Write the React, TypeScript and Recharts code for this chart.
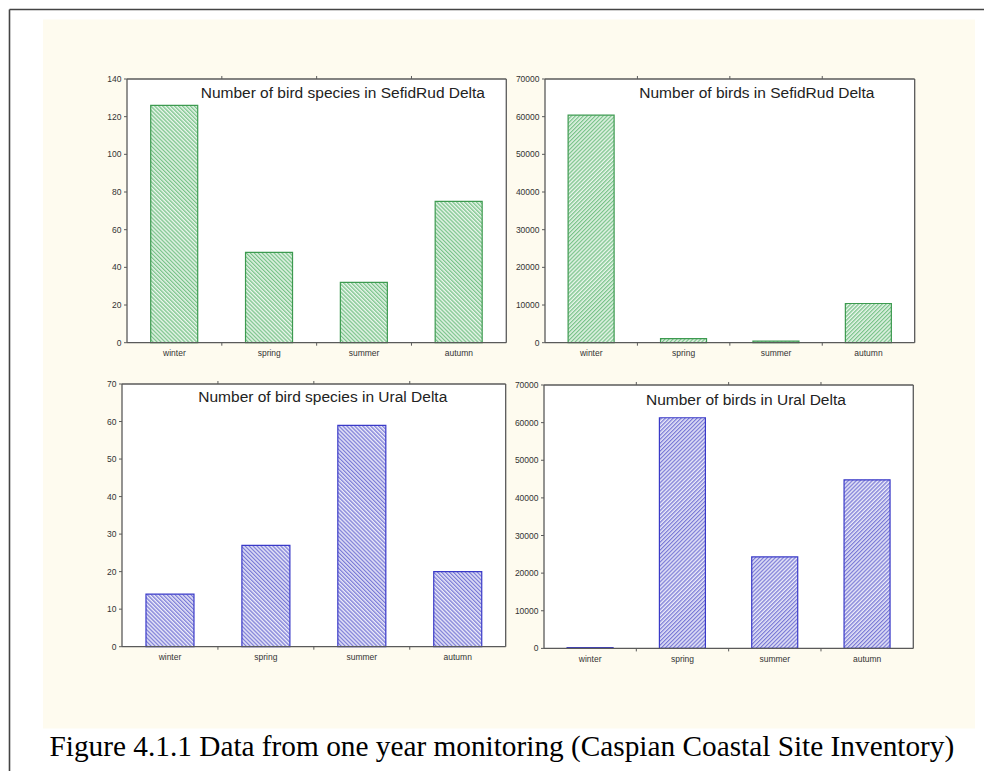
import React from 'react';
import { BarChart, Bar, XAxis, YAxis, CartesianGrid } from 'recharts';

const seasons = ['winter', 'spring', 'summer', 'autumn'];
const sefidRudSpecies = [126, 48, 32, 75];
const sefidRudBirds = [60400, 1100, 400, 10400];
const uralSpecies = [14, 27, 59, 20];
const uralBirds = [200, 61300, 24300, 44800];

const speciesTicksSefid = [0, 20, 40, 60, 80, 100, 120, 140];
const speciesTicksUral = [0, 10, 20, 30, 40, 50, 60, 70];
const birdTicks = [0, 10000, 20000, 30000, 40000, 50000, 60000, 70000];

const titles = [
  'Number of bird species in SefidRud Delta',
  'Number of birds in SefidRud Delta',
  'Number of bird species in Ural Delta',
  'Number of birds in Ural Delta',
];
const caption = 'Figure 4.1.1 Data from one year monitoring (Caspian Coastal Site Inventory)';

const makeData = (values: number[]) => seasons.map((s, i) => ({ season: s, value: values[i] }));

const GREEN = { line: '#3d9a50', hatch: '#79c389', bg: '#eaf6ec' };
const BLUE = { line: '#3a3ac8', hatch: '#7a7ad6', bg: '#ebebf9' };

const AX = '#5a5a5a';
const SANS = '"Liberation Sans", Arial, sans-serif';

type PanelProps = {
  id: string;
  values: number[];
  ticks: number[];
  plot: { x: number; y: number; w: number; h: number };
  color: { line: string; hatch: string; bg: string };
  rotate: number;
};

function Panel({ id, values, ticks, plot, color, rotate }: PanelProps) {
  const M_TOP = 30;
  const M_RIGHT = 20;
  const Y_W = 50;
  const TOP_H = 1;
  const RIGHT_W = 1;
  const width = plot.w + Y_W + M_RIGHT;
  const height = plot.h + M_TOP + 30;
  const band = plot.w / seasons.length;
  const axisY = M_TOP + plot.h;
  const data = makeData(values);
  const max = ticks[ticks.length - 1];

  const BottomTick = (props: any) => {
    const { x, payload, index } = props;
    return (
      <g>
        <text x={x} y={axisY + 13.3} textAnchor="middle" fontSize={8.5} fill="#333" fontFamily={SANS}>
          {payload.value}
        </text>
        {index > 0 && (
          <line x1={x - band / 2} x2={x - band / 2} y1={axisY} y2={axisY + 3} stroke={AX} strokeWidth={1} />
        )}
      </g>
    );
  };
  const TopTick = (props: any) => {
    const { x, index } = props;
    if (index === 0) return <g />;
    return <line x1={x - band / 2} x2={x - band / 2} y1={M_TOP} y2={M_TOP - 3} stroke={AX} strokeWidth={1} />;
  };

  return (
    <div style={{ position: 'absolute', left: plot.x - Y_W, top: plot.y - M_TOP }}>
      <BarChart
        width={width}
        height={height}
        data={data}
        margin={{ top: M_TOP - TOP_H, right: M_RIGHT - RIGHT_W, left: 0, bottom: 0 }}
        barCategoryGap="25%"
      >
        <defs>
          <pattern id={id} patternUnits="userSpaceOnUse" width={2.8} height={2.8} patternTransform={`rotate(${rotate})`}>
            <rect x={0} y={0} width={2.8} height={2.8} fill={color.bg} />
            <rect x={0} y={0} width={1.3} height={2.8} fill={color.hatch} />
          </pattern>
        </defs>
        <CartesianGrid xAxisId="bottom" yAxisId="left" horizontal={false} vertical={false} fill="#ffffff" />
        <XAxis
          xAxisId="bottom"
          dataKey="season"
          height={30}
          interval={0}
          tickLine={false}
          tick={<BottomTick />}
          axisLine={{ stroke: AX, strokeWidth: 1.3 }}
        />
        <XAxis
          xAxisId="top"
          dataKey="season"
          orientation="top"
          height={TOP_H}
          interval={0}
          tickLine={false}
          tick={<TopTick />}
          axisLine={{ stroke: AX, strokeWidth: 1.3 }}
        />
        <YAxis
          yAxisId="left"
          width={Y_W}
          domain={[0, max]}
          ticks={ticks}
          interval={0}
          tickSize={3}
          tickMargin={2.5}
          tick={{ fontSize: 8.5, fill: '#333', fontFamily: SANS }}
          axisLine={{ stroke: AX, strokeWidth: 1.3 }}
          tickLine={{ stroke: AX }}
        />
        <YAxis
          yAxisId="right"
          orientation="right"
          width={RIGHT_W}
          domain={[0, max]}
          ticks={ticks}
          interval={0}
          tickSize={3}
          tickFormatter={() => ''}
          axisLine={{ stroke: AX, strokeWidth: 1.3 }}
          tickLine={{ stroke: AX }}
        />
        <Bar
          xAxisId="bottom"
          yAxisId="left"
          dataKey="value"
          fill={`url(#${id})`}
          stroke={color.line}
          strokeWidth={1.2}
          isAnimationActive={false}
        />
      </BarChart>
    </div>
  );
}

export default function App() {
  return (
    <div style={{ position: 'absolute', left: 0, top: 0, width: 984, height: 771, background: '#ffffff', overflow: 'hidden' }}>
      <svg width={984} height={771} style={{ position: 'absolute', left: 0, top: 0 }}>
        <rect x={43} y={19.5} width={932} height={709} fill="#fefbef" />
        <line x1={9.5} y1={9.5} x2={984} y2={9.5} stroke="#444" strokeWidth={1.6} />
        <line x1={9.5} y1={9.5} x2={9.5} y2={771} stroke="#444" strokeWidth={1.6} />
      </svg>
      <Panel id="hatchA" values={sefidRudSpecies} ticks={speciesTicksSefid} plot={{ x: 126.7, y: 79, w: 379.3, h: 263.7 }} color={GREEN} rotate={-45} />
      <Panel id="hatchB" values={sefidRudBirds} ticks={birdTicks} plot={{ x: 545.3, y: 79, w: 369.7, h: 263.7 }} color={GREEN} rotate={45} />
      <Panel id="hatchC" values={uralSpecies} ticks={speciesTicksUral} plot={{ x: 122.3, y: 384, w: 383.7, h: 262.7 }} color={BLUE} rotate={-45} />
      <Panel id="hatchD" values={uralBirds} ticks={birdTicks} plot={{ x: 544, y: 385.3, w: 369.3, h: 263.4 }} color={BLUE} rotate={45} />
      <svg width={984} height={771} style={{ position: 'absolute', left: 0, top: 0, pointerEvents: 'none' }}>
        <g fontFamily={SANS} fontSize={15.5} fill="#222">
          <text x={200.7} y={98.3}>{titles[0]}</text>
          <text x={639.3} y={98.3}>{titles[1]}</text>
          <text x={198.3} y={402.3}>{titles[2]}</text>
          <text x={646} y={404.6}>{titles[3]}</text>
        </g>
        <text x={49.5} y={756} fontFamily='"Liberation Serif", "Times New Roman", serif' fontSize={29.3} fill="#000">
          {caption}
        </text>
      </svg>
    </div>
  );
}
